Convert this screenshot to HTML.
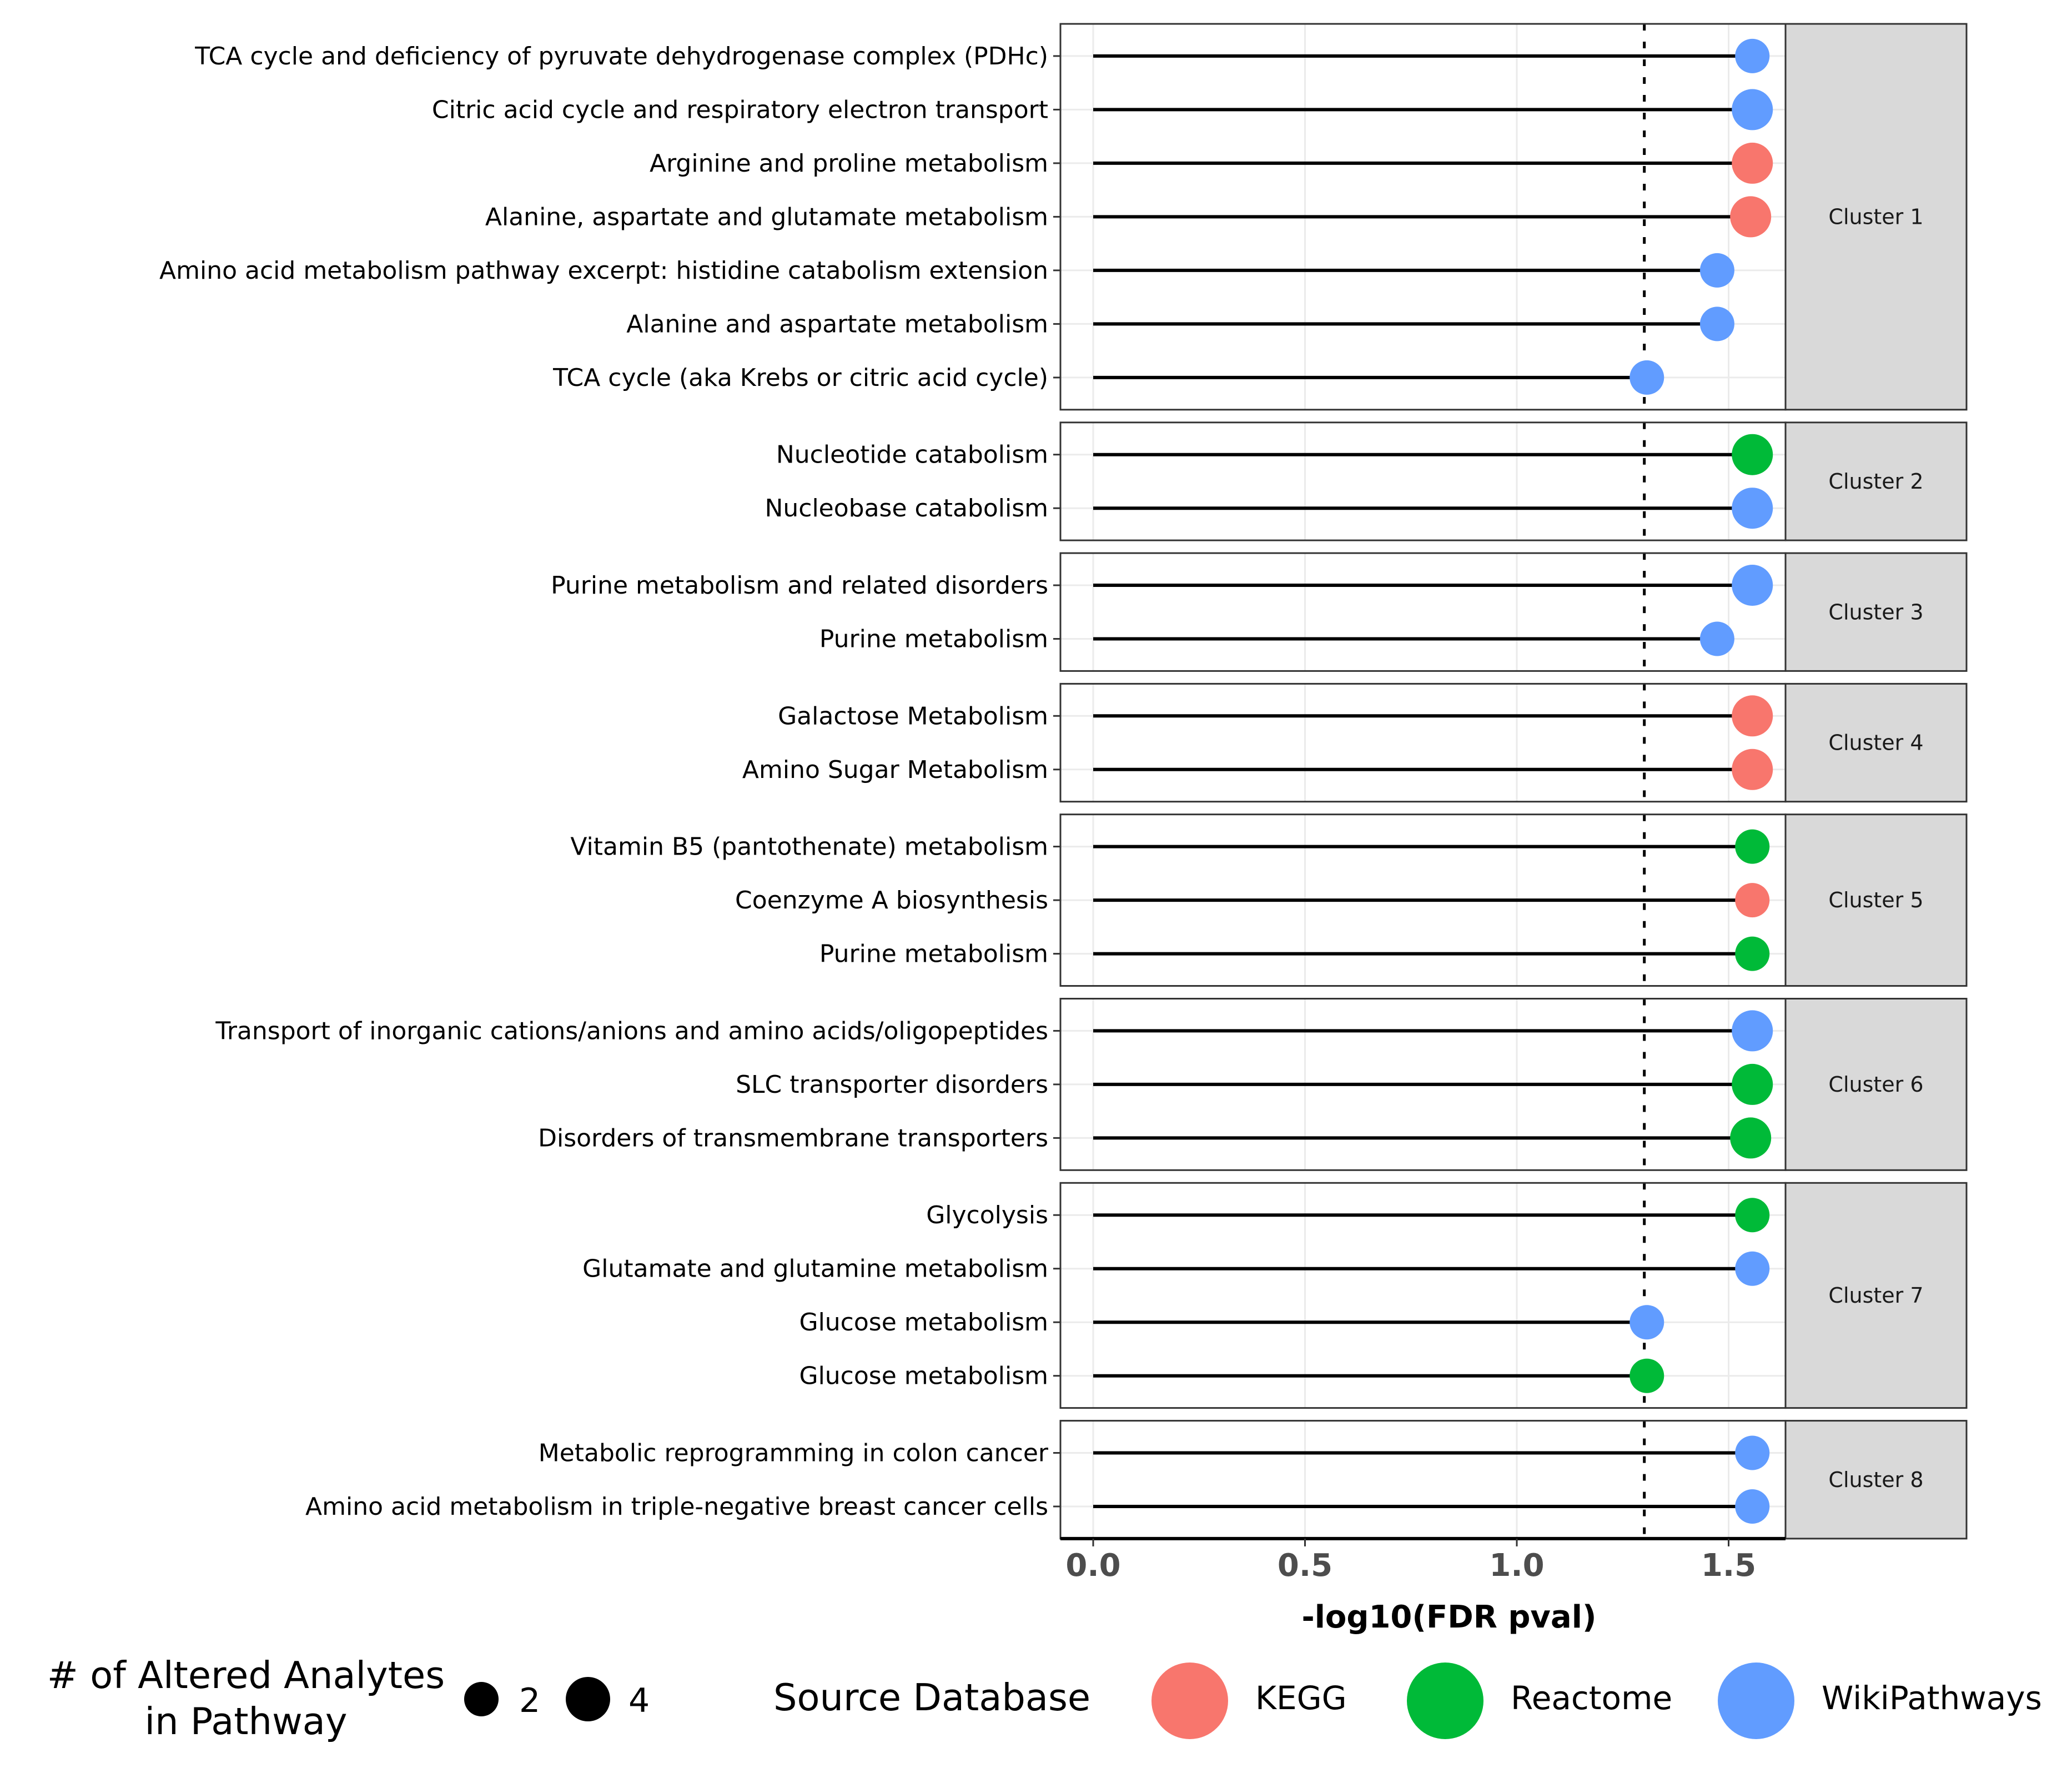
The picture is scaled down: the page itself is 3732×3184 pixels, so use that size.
<!DOCTYPE html>
<html><head><meta charset="utf-8">
<style>html,body{margin:0;padding:0;background:#fff}svg{display:block}</style></head>
<body>
<svg id="chart" width="3732" height="3184" viewBox="0 0 3732 3184" xmlns="http://www.w3.org/2000/svg" font-family="'DejaVu Sans','Liberation Sans',sans-serif"></svg>
<script>
const pathways = ["TCA cycle and deficiency of pyruvate dehydrogenase complex (PDHc)","Citric acid cycle and respiratory electron transport","Arginine and proline metabolism","Alanine, aspartate and glutamate metabolism","Amino acid metabolism pathway excerpt: histidine catabolism extension","Alanine and aspartate metabolism","TCA cycle (aka Krebs or citric acid cycle)","Nucleotide catabolism","Nucleobase catabolism","Purine metabolism and related disorders","Purine metabolism","Galactose Metabolism","Amino Sugar Metabolism","Vitamin B5 (pantothenate) metabolism","Coenzyme A biosynthesis","Purine metabolism","Transport of inorganic cations/anions and amino acids/oligopeptides","SLC transporter disorders","Disorders of transmembrane transporters","Glycolysis","Glutamate and glutamine metabolism","Glucose metabolism","Glucose metabolism","Metabolic reprogramming in colon cancer","Amino acid metabolism in triple-negative breast cancer cells"];
const values = [1.556,1.556,1.556,1.552,1.473,1.473,1.307,1.556,1.556,1.556,1.473,1.556,1.556,1.556,1.556,1.556,1.556,1.556,1.552,1.556,1.556,1.307,1.307,1.556,1.556];
const sources = ["WikiPathways","WikiPathways","KEGG","KEGG","WikiPathways","WikiPathways","WikiPathways","Reactome","WikiPathways","WikiPathways","WikiPathways","KEGG","KEGG","Reactome","KEGG","Reactome","WikiPathways","Reactome","Reactome","Reactome","WikiPathways","WikiPathways","Reactome","WikiPathways","WikiPathways"];
const counts = [2,3,3,3,2,2,2,3,3,3,2,3,3,2,2,2,3,3,3,2,2,2,2,2,2];
const clusters = [1,1,1,1,1,1,1,2,2,3,3,4,4,5,5,5,6,6,6,7,7,7,7,8,8];
const xTicks = [0,0.5,1.0,1.5];
const xTickLabels = ["0.0","0.5","1.0","1.5"];
const threshold = 1.301;
const colorOf = {KEGG:"#F8766D",Reactome:"#00BA38",WikiPathways:"#619CFF"};

const NS="http://www.w3.org/2000/svg";
const svg=document.getElementById('chart');
function mk(tag,attrs,parent){const e=document.createElementNS(NS,tag);for(const k in attrs)e.setAttribute(k,attrs[k]);(parent||svg).appendChild(e);return e;}
const X0=1969, UNIT=763, PL=1910, PR=3216, SR=3542, TOP=43, ROW=96.5, GAP=23;
const xs=v=>X0+v*UNIT;
const rOf=c=>c>=4?40:(c>=3?37:31);

const clusterIds=[...new Set(clusters)];
let y=TOP; const panelInfo={};
clusterIds.forEach(c=>{const n=clusters.filter(k=>k===c).length;const h=(n+0.2)*ROW;panelInfo[c]={top:y,h:h,n:n};y+=h+GAP;});
const rowIdx={};const rowY=[];
pathways.forEach((p,i)=>{const c=clusters[i];rowIdx[c]=(rowIdx[c]||0);rowY[i]=panelInfo[c].top+ROW*0.6+rowIdx[c]*ROW;rowIdx[c]++;});

clusterIds.forEach(c=>{
  const P=panelInfo[c];
  const g=mk('g',{});
  
  
  mk('rect',{x:PL,y:P.top,width:PR-PL,height:P.h,fill:'#fff'},g);
  xTicks.forEach(t=>{const l=mk('line',{x1:xs(t),x2:xs(t),y1:P.top,y2:P.top+P.h,stroke:'#ebebeb','stroke-width':3},g);
    });
  const strip=mk('rect',{x:PR,y:P.top,width:SR-PR,height:P.h,fill:'#d9d9d9',stroke:'#333','stroke-width':3},g);
  
  const st=mk('text',{x:(PR+SR)/2,y:P.top+P.h/2+13,'text-anchor':'middle','font-size':38,fill:'#1a1a1a'},g);
  st.textContent='Cluster '+c;
  
});

pathways.forEach((p,i)=>{
  const yy=rowY[i];
  const gl=mk('line',{x1:PL,x2:PR,y1:yy,y2:yy,stroke:'#ebebeb','stroke-width':3});
  
});
pathways.forEach((p,i)=>{
  const yy=rowY[i];
  const seg=mk('line',{x1:xs(0),x2:xs(values[i]),y1:yy,y2:yy,stroke:'#000','stroke-width':6});
  
});
clusterIds.forEach(c=>{const P=panelInfo[c];
  const th=mk('line',{x1:xs(threshold),x2:xs(threshold),y1:P.top,y2:P.top+P.h,stroke:'#000','stroke-width':5,'stroke-dasharray':'12 20'});
  
});
pathways.forEach((p,i)=>{
  const yy=rowY[i];
  const pt=mk('circle',{cx:xs(values[i]),cy:yy,r:rOf(counts[i]),fill:colorOf[sources[i]]});
  
  const tk=mk('line',{x1:PL-13,x2:PL,y1:yy,y2:yy,stroke:'#333','stroke-width':3});
  
  const lb=mk('text',{x:PL-22,y:yy+15,'text-anchor':'end','font-size':44,fill:'#000'});
  lb.textContent=p;
  
});
clusterIds.forEach(c=>{const P=panelInfo[c];
  const b=mk('rect',{x:PL,y:P.top,width:PR-PL,height:P.h,fill:'none',stroke:'#333','stroke-width':3});
  
});
const last=panelInfo[clusterIds[clusterIds.length-1]];
const axY=last.top+last.h;
const ax=mk('line',{x1:PL,x2:PR,y1:axY,y2:axY,stroke:'#000','stroke-width':6});

xTicks.forEach((t,i)=>{
  const tk=mk('line',{x1:xs(t),x2:xs(t),y1:axY,y2:axY+14,stroke:'#333','stroke-width':3});
  
  const tl=mk('text',{x:xs(t),y:axY+67,'text-anchor':'middle','font-size':56,'font-weight':'bold',fill:'#4d4d4d'});
  tl.textContent=xTickLabels[i];
  
});
const xt=mk('text',{x:2610,y:axY+160,'text-anchor':'middle','font-size':56,'font-weight':'bold',fill:'#000'});
xt.textContent='-log10(FDR pval)';


const L=mk('g',{});

const t1=mk('text',{x:443,y:3040,'text-anchor':'middle','font-size':67},L);t1.textContent='# of Altered Analytes';

const t2=mk('text',{x:443,y:3123,'text-anchor':'middle','font-size':67},L);t2.textContent='in Pathway';

const sizeKeys=[2,4];const sizeX=[867,1059];const sizeLblX=[935,1132];
sizeKeys.forEach((s,i)=>{
  const c=mk('circle',{cx:sizeX[i],cy:3060,r:s>=4?40:31,fill:'#000'},L);
  
  const t=mk('text',{x:sizeLblX[i],y:3083,'font-size':60},L);t.textContent=String(s);
  
});
const st=mk('text',{x:1393,y:3080,'font-size':67},L);st.textContent='Source Database';

const srcKeys=["KEGG","Reactome","WikiPathways"];const srcX=[2143,2603,3163];
srcKeys.forEach((s,i)=>{
  const c=mk('circle',{cx:srcX[i],cy:3063,r:69,fill:colorOf[s]},L);
  
  const t=mk('text',{x:srcX[i]+118,y:3078,'font-size':58},L);t.textContent=s;
  
});
</script>
</body></html>
